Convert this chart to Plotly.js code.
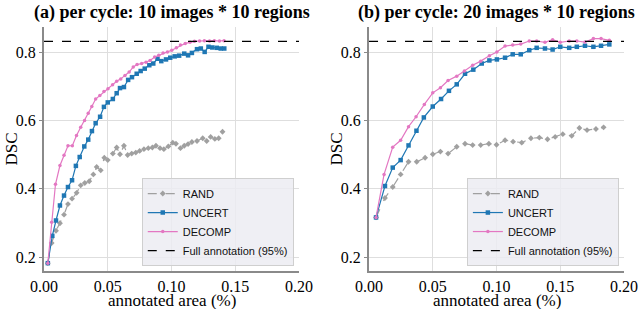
<!DOCTYPE html>
<html>
<head>
<meta charset="utf-8">
<script src="https://cdn.plot.ly/plotly-3.0.1.min.js"></script>
<style>html,body{margin:0;padding:0;background:#fff;}#chart{width:640px;height:309px;}</style>
</head>
<body>
<div id="chart"></div>
<script>
// ---- (a) per cycle: 10 images * 10 regions ----
const aRandX = [0.003,0.006,0.0094,0.0125,0.0157,0.0188,0.022,0.0256,0.0288,0.032,0.0355,0.0387,0.0413,0.0445,0.0473,0.050,0.054,0.057,0.0596,0.0627,0.0656,0.0688,0.072,0.075,0.0784,0.0818,0.085,0.0878,0.091,0.094,0.0975,0.101,0.1035,0.107,0.110,0.113,0.116,0.120,0.1245,0.1276,0.1307,0.134,0.137,0.140];
const aRandY = [0.182,0.241,0.277,0.299,0.324,0.355,0.371,0.388,0.410,0.417,0.422,0.442,0.464,0.454,0.491,0.484,0.503,0.521,0.501,0.526,0.499,0.503,0.506,0.511,0.516,0.519,0.521,0.526,0.519,0.516,0.524,0.535,0.532,0.519,0.526,0.531,0.537,0.540,0.548,0.540,0.552,0.546,0.548,0.567];
const aUncX = [0.003,0.0065,0.0094,0.0125,0.0157,0.0188,0.022,0.025,0.028,0.0316,0.0347,0.0376,0.0405,0.044,0.047,0.050,0.054,0.057,0.0596,0.0627,0.066,0.069,0.0727,0.0758,0.079,0.0826,0.0857,0.089,0.092,0.0957,0.099,0.1025,0.106,0.110,0.113,0.116,0.120,0.123,0.126,0.129,0.132,0.1355,0.1386,0.1414];
const aUncY = [0.182,0.262,0.307,0.351,0.380,0.405,0.425,0.467,0.493,0.524,0.544,0.569,0.592,0.611,0.640,0.653,0.663,0.680,0.695,0.698,0.719,0.727,0.737,0.745,0.752,0.762,0.767,0.781,0.774,0.779,0.784,0.788,0.790,0.796,0.791,0.798,0.809,0.811,0.801,0.816,0.814,0.813,0.811,0.811];
const aDecX = [0.003,0.006,0.009,0.0125,0.0157,0.0188,0.0222,0.0255,0.0288,0.0318,0.0347,0.0375,0.0405,0.0438,0.0470,0.0502,0.0538,0.0570,0.0602,0.0635,0.0668,0.0700,0.0730,0.0766,0.0800,0.0832,0.0868,0.0900,0.0934,0.0968,0.1002,0.1038,0.1070,0.1108,0.1145,0.1180,0.1220,0.1258,0.1298,0.1336,0.1376,0.1412];
const aDecY = [0.182,0.302,0.413,0.468,0.498,0.526,0.526,0.556,0.580,0.600,0.621,0.641,0.663,0.673,0.685,0.693,0.705,0.715,0.722,0.732,0.742,0.757,0.764,0.767,0.771,0.776,0.786,0.791,0.798,0.801,0.806,0.813,0.821,0.826,0.829,0.832,0.833,0.834,0.833,0.834,0.833,0.834];

// ---- (b) per cycle: 20 images * 10 regions ----
const bRandX = [0.0055,0.0125,0.0186,0.0248,0.031,0.0374,0.044,0.050,0.056,0.062,0.0688,0.0753,0.0813,0.0876,0.094,0.100,0.1067,0.113,0.1198,0.127,0.1336,0.140,0.146,0.152,0.159,0.165,0.171,0.178,0.184];
const bRandY = [0.316,0.373,0.405,0.442,0.479,0.479,0.491,0.501,0.509,0.503,0.523,0.532,0.528,0.528,0.532,0.529,0.542,0.538,0.535,0.548,0.550,0.545,0.552,0.560,0.555,0.578,0.572,0.575,0.580];
const bUncX = [0.0055,0.0125,0.0186,0.0248,0.031,0.0372,0.043,0.050,0.0565,0.0627,0.0688,0.0753,0.0818,0.0884,0.0944,0.1003,0.1067,0.1127,0.119,0.1257,0.1315,0.138,0.144,0.150,0.157,0.163,0.1694,0.176,0.182,0.1885];
const bUncY = [0.316,0.408,0.462,0.484,0.527,0.570,0.609,0.641,0.663,0.687,0.706,0.737,0.749,0.767,0.776,0.779,0.784,0.794,0.794,0.806,0.813,0.811,0.808,0.816,0.813,0.816,0.819,0.816,0.819,0.823];
const bDecX = [0.0055,0.0118,0.0186,0.0248,0.031,0.0369,0.0434,0.050,0.056,0.062,0.0688,0.0748,0.0813,0.0876,0.0944,0.1003,0.1067,0.1127,0.119,0.1257,0.1315,0.138,0.144,0.150,0.157,0.163,0.1694,0.176,0.182,0.1885];
const bDecY = [0.316,0.442,0.522,0.542,0.582,0.611,0.647,0.681,0.696,0.717,0.730,0.745,0.762,0.774,0.790,0.801,0.818,0.821,0.824,0.833,0.833,0.829,0.837,0.829,0.833,0.833,0.830,0.840,0.840,0.835];

// full annotation reference level
const fullX = [0, 0.2];
const fullY = [0.832, 0.832];

const seriesNames = ['RAND', 'UNCERT', 'DECOMP', 'Full annotation (95%)'];
const xTicks = [0, 0.05, 0.10, 0.15, 0.20];
const yTicks = [0.2, 0.4, 0.6, 0.8];
const panelTitles = ['(a) per cycle: 10 images * 10 regions', '(b) per cycle: 20 images * 10 regions'];
const xTitle = 'annotated area (%)';
const yTitle = 'DSC';

const GRAY = '#a0a0a0', BLUE = '#1f77b4', PINK = '#e377c2';

function panel(rx, ry, ux, uy, dx, dy, xa, ya, leg) {
  return [
    {x: rx, y: ry, name: seriesNames[0], xaxis: xa, yaxis: ya, legend: leg, mode: 'lines+markers',
     line: {color: GRAY, width: 1.2, dash: 'dash'}, marker: {symbol: 'diamond', size: 4.5, color: GRAY}},
    {x: ux, y: uy, name: seriesNames[1], xaxis: xa, yaxis: ya, legend: leg, mode: 'lines+markers',
     line: {color: BLUE, width: 1.2}, marker: {symbol: 'square', size: 4.5, color: BLUE}},
    {x: dx, y: dy, name: seriesNames[2], xaxis: xa, yaxis: ya, legend: leg, mode: 'lines+markers',
     line: {color: PINK, width: 1.2}, marker: {symbol: 'circle', size: 3.5, color: PINK}},
    {x: fullX, y: fullY, name: seriesNames[3], xaxis: xa, yaxis: ya, legend: leg, mode: 'lines',
     line: {color: '#000', width: 1.3, dash: 'dash'}}
  ];
}

const data = [].concat(
  panel(aRandX, aRandY, aUncX, aUncY, aDecX, aDecY, 'x', 'y', 'legend'),
  panel(bRandX, bRandY, bUncX, bUncY, bDecX, bDecY, 'x2', 'y2', 'legend2')
);

const SERIF = 'Liberation Serif';
function tickFont() { return {family: SERIF, size: 16, color: '#000'}; }
function xAxis(dom, anchor) {
  return {domain: dom, anchor: anchor, range: [0, 0.2], tickvals: xTicks, tickformat: '.2f',
    showgrid: true, gridcolor: '#dedede', gridwidth: 1, zeroline: false,
    showline: true, linecolor: '#8a8a8a', linewidth: 2, ticks: '',
    tickfont: tickFont(), fixedrange: true};
}
function yAxis(anchor) {
  return {domain: [0.123, 0.9126], anchor: anchor, range: [0.159, 0.874], tickvals: yTicks, tickformat: '.1f',
    showgrid: true, gridcolor: '#dedede', gridwidth: 1, zeroline: false,
    showline: true, linecolor: '#8a8a8a', linewidth: 2, ticks: 'outside', ticklen: 3, tickcolor: '#8a8a8a',
    tickfont: tickFont(), fixedrange: true};
}
function legendStyle(x) {
  return {x: x, font: {family: 'Liberation Sans', size: 11, color: '#111'},
    bgcolor: 'rgba(236,236,242,0.85)', bordercolor: '#cfcfcf', borderwidth: 1,
    xanchor: 'right', yanchor: 'bottom', y: 0.139, itemwidth: 30, tracegroupgap: 0};
}

const titleFont = {family: SERIF, size: 18, color: '#000', weight: 'bold'};
const labFont = {family: SERIF, size: 17, color: '#000'};

const layout = {
  width: 640, height: 309, autosize: false,
  font: {family: SERIF, color: '#000'},
  margin: {l: 0, r: 0, t: 0, b: 0},
  paper_bgcolor: '#fff', plot_bgcolor: '#fff',
  xaxis: xAxis([0.06875, 0.4672], 'y'),
  yaxis: yAxis('x'),
  xaxis2: xAxis([0.5766, 0.975], 'y2'),
  yaxis2: yAxis('x2'),
  showlegend: true,
  legend: legendStyle(0.459),
  legend2: legendStyle(0.967),
  annotations: [
    {text: '<b>' + panelTitles[0] + '</b>', xref: 'paper', yref: 'paper', x: 0.268, y: 0.961, xanchor: 'center', yanchor: 'middle', showarrow: false, font: titleFont},
    {text: '<b>' + panelTitles[1] + '</b>', xref: 'paper', yref: 'paper', x: 0.7758, y: 0.961, xanchor: 'center', yanchor: 'middle', showarrow: false, font: titleFont},
    {text: xTitle, xref: 'paper', yref: 'paper', x: 0.268, y: 0.0265, xanchor: 'center', yanchor: 'middle', showarrow: false, font: labFont},
    {text: xTitle, xref: 'paper', yref: 'paper', x: 0.7758, y: 0.0265, xanchor: 'center', yanchor: 'middle', showarrow: false, font: labFont},
    {text: yTitle, xref: 'paper', yref: 'paper', x: 0.0, y: 0.518, xanchor: 'left', yanchor: 'middle', textangle: -90, showarrow: false, font: labFont},
    {text: yTitle, xref: 'paper', yref: 'paper', x: 0.508, y: 0.518, xanchor: 'left', yanchor: 'middle', textangle: -90, showarrow: false, font: labFont}
  ]
};

Plotly.newPlot('chart', data, layout, {displayModeBar: false, staticPlot: true});
</script>
</body>
</html>
